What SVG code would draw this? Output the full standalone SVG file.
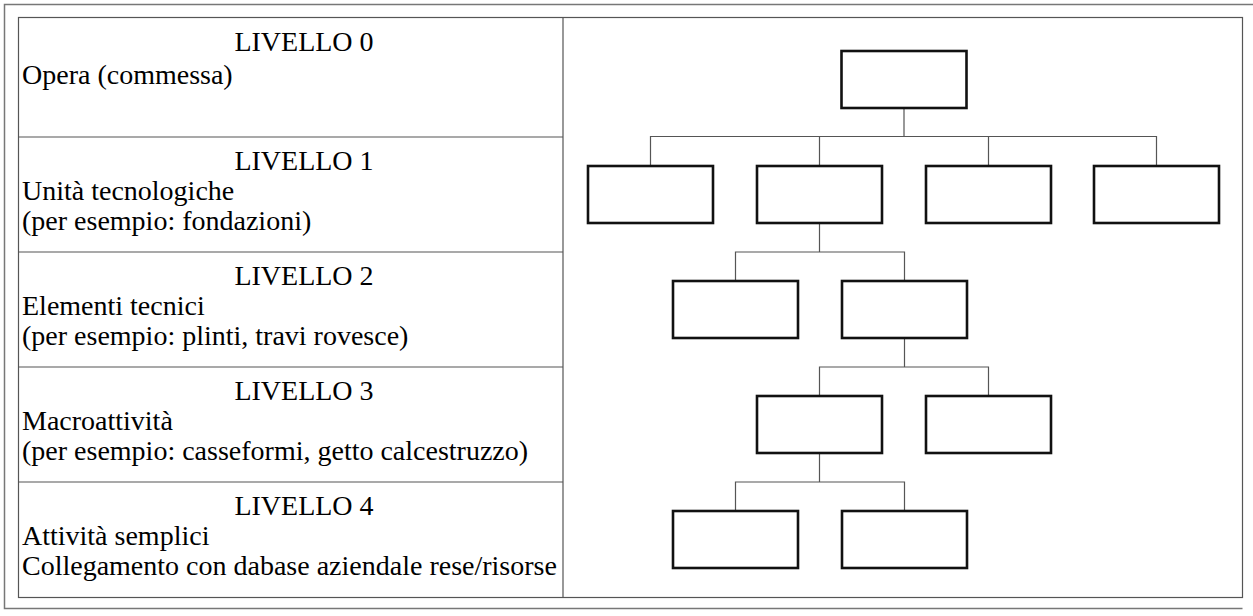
<svg xmlns="http://www.w3.org/2000/svg" width="1253" height="616" viewBox="0 0 1253 616">
<style>
.frame{fill:none;stroke:#777;stroke-width:1.5}
.grid{fill:none;stroke:#555;stroke-width:1.2}
.box{fill:#fff;stroke:#111;stroke-width:2.6}
.conn{fill:none;stroke:#555;stroke-width:1.2}
.t{font-family:"Liberation Serif","Times New Roman",serif;font-size:28px;fill:#000}
.c{text-anchor:middle}
</style>
<rect x="0" y="0" width="1253" height="616" fill="#fff"/>
<g id="frame">
<path class="frame" d="M1253 4.5 H4.5 V608.5 H1242.5"/>
<rect class="grid" x="18.5" y="17.5" width="1224" height="580"/>
<path class="grid" d="M563 17.5 V597.5 M18.5 137 H563 M18.5 252 H563 M18.5 367 H563 M18.5 482 H563"/>
</g>
<g id="labels">
<g id="row0"><text class="t c" x="304" y="51">LIVELLO 0</text><text class="t" x="22" y="84">Opera (commessa)</text></g>
<g id="row1"><text class="t c" x="304" y="170">LIVELLO 1</text><text class="t" x="22" y="200">Unità tecnologiche</text><text class="t" x="22" y="230">(per esempio: fondazioni)</text></g>
<g id="row2"><text class="t c" x="304" y="285">LIVELLO 2</text><text class="t" x="22" y="315">Elementi tecnici</text><text class="t" x="22" y="345">(per esempio: plinti, travi rovesce)</text></g>
<g id="row3"><text class="t c" x="304" y="400">LIVELLO 3</text><text class="t" x="22" y="430">Macroattività</text><text class="t" x="22" y="460">(per esempio: casseformi, getto calcestruzzo)</text></g>
<g id="row4"><text class="t c" x="304" y="515">LIVELLO 4</text><text class="t" x="22" y="545">Attività semplici</text><text class="t" x="22" y="575">Collegamento con dabase aziendale rese/risorse</text></g>
</g>
<g id="connectors">
<path class="conn" d="M904 108 V136.5 M650.5 166 V136.5 H1156.5 V166 M819.5 136.5 V166 M988.5 136.5 V166"/>
<path class="conn" d="M819.5 223 V252 M735.5 281 V252 H904.5 V281"/>
<path class="conn" d="M904.5 338 V367 M819.5 396 V367 H988.5 V396"/>
<path class="conn" d="M819.5 453 V482 M735.5 511 V482 H904.5 V511"/>
</g>
<g id="n0"><rect class="box" x="841.5" y="51" width="125" height="57"/></g>
<g id="n1a"><rect class="box" x="588" y="166" width="125" height="57"/></g>
<g id="n1b"><rect class="box" x="757" y="166" width="125" height="57"/></g>
<g id="n1c"><rect class="box" x="926" y="166" width="125" height="57"/></g>
<g id="n1d"><rect class="box" x="1094" y="166" width="125" height="57"/></g>
<g id="n2a"><rect class="box" x="673" y="281" width="125" height="57"/></g>
<g id="n2b"><rect class="box" x="842" y="281" width="125" height="57"/></g>
<g id="n3a"><rect class="box" x="757" y="396" width="125" height="57"/></g>
<g id="n3b"><rect class="box" x="926" y="396" width="125" height="57"/></g>
<g id="n4a"><rect class="box" x="673" y="511" width="125" height="57"/></g>
<g id="n4b"><rect class="box" x="842" y="511" width="125" height="57"/></g>
</svg>
